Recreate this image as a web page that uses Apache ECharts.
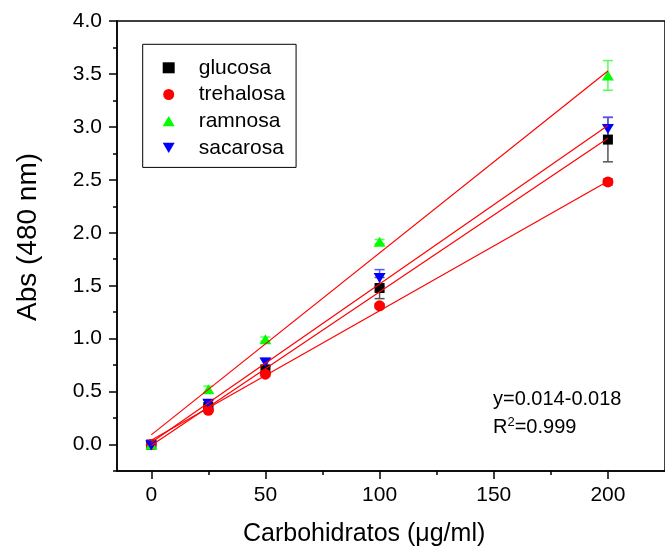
<!DOCTYPE html>
<html>
<head>
<meta charset="utf-8">
<script src="https://cdn.jsdelivr.net/npm/echarts@6/dist/echarts.min.js"></script>
<style>html,body{margin:0;padding:0;background:#fff}#c{width:665px;height:556px}</style>
</head>
<body>
<div id="c"></div>
<script>
const conc = [0, 25, 50, 100, 200];
const glucosa = [0.00, 0.355, 0.71, 1.478, 2.88];
const glucosaErr = [0.01, 0.02, 0.03, 0.10, 0.21];
const trehalosa = [0.00, 0.323, 0.664, 1.31, 2.48];
const trehalosaErr = [0.01, 0.02, 0.02, 0.02, 0.03];
const ramnosa = [0.00, 0.522, 0.995, 1.916, 3.486];
const ramnosaErr = [0.01, 0.03, 0.02, 0.02, 0.14];
const sacarosa = [-0.01, 0.386, 0.774, 1.572, 2.98];
const sacarosaErr = [0.02, 0.03, 0.04, 0.08, 0.11];
// fitted lines: [slope, intercept]
const fitGlucosa = [0.01451, -0.009];
const fitTrehalosa = [0.01223, 0.040];
const fitRamnosa = [0.01718, 0.091];
const fitSacarosa = [0.01497, 0.019];
const fitRange = [0, 200];
const xMajorTicks = [0, 50, 100, 150, 200];
const xMinorTicks = [25, 75, 125, 175];
const yMajorTicks = [0, 0.5, 1.0, 1.5, 2.0, 2.5, 3.0, 3.5, 4.0];
const yMinorTicks = [-0.25, 0.25, 0.75, 1.25, 1.75, 2.25, 2.75, 3.25, 3.75];
const names = ['glucosa', 'trehalosa', 'ramnosa', 'sacarosa'];

const FONT = 'Liberation Sans, Arial, sans-serif';
const colors = ['#000000', '#ff0000', '#00ff00', '#0000ff'];
const errColors = ['#555555', '#ff5555', '#55ff55', '#5555ff'];
const symbols = ['rect', 'circle', 'triangle', 'triangle'];
const sizes = [[10, 10], 11, [12, 10], [12, 10]];
const rot = [0, 0, 0, 180];
const vals = [glucosa, trehalosa, ramnosa, sacarosa];
const errs = [glucosaErr, trehalosaErr, ramnosaErr, sacarosaErr];
const fits = [fitGlucosa, fitTrehalosa, fitRamnosa, fitSacarosa];

const series = [];
names.forEach((n, i) => {
  series.push({
    type: 'custom', name: n + '_err', xAxisIndex: 0, yAxisIndex: 0, z: 2, silent: true,
    data: conc.map((x, k) => [x, vals[i][k] - errs[i][k], vals[i][k] + errs[i][k]]),
    renderItem: function (params, api) {
      const x = api.value(0);
      const lo = api.coord([x, api.value(1)]);
      const hi = api.coord([x, api.value(2)]);
      const st = { stroke: errColors[i], lineWidth: 1.5 };
      return { type: 'group', children: [
        { type: 'line', shape: { x1: lo[0], y1: lo[1], x2: hi[0], y2: hi[1] }, style: st },
        { type: 'line', shape: { x1: lo[0] - 5, y1: lo[1], x2: lo[0] + 5, y2: lo[1] }, style: st },
        { type: 'line', shape: { x1: hi[0] - 5, y1: hi[1], x2: hi[0] + 5, y2: hi[1] }, style: st }
      ]};
    }
  });
});
names.forEach((n, i) => {
  series.push({
    type: 'scatter', name: n, xAxisIndex: 0, yAxisIndex: 0, z: 3,
    symbol: symbols[i], symbolSize: sizes[i], symbolRotate: rot[i],
    itemStyle: { color: colors[i], opacity: 1 },
    data: conc.map((x, k) => [x, vals[i][k]])
  });
});
names.forEach((n, i) => {
  series.push({
    type: 'line', name: n + '_fit', xAxisIndex: 0, yAxisIndex: 0, z: 4, silent: true,
    showSymbol: false, symbol: 'none',
    lineStyle: { color: '#ff0000', width: 1.2 },
    data: fitRange.map(x => [x, fits[i][1] + fits[i][0] * x])
  });
});

const axisLineStyle = { color: '#000', width: 1.5 };
const option = {
  animation: false,
  grid: { left: 117, top: 21, right: -10, bottom: 85, show: true, borderColor: '#000', borderWidth: 1.5, backgroundColor: 'transparent' },
  xAxis: [
    { type: 'value', min: -15, max: 225, position: 'bottom',
      axisLine: { show: true, onZero: false, lineStyle: axisLineStyle },
      axisTick: { show: true, inside: false, length: 8, lineStyle: { color: '#000', width: 1.5 }, customValues: xMajorTicks },
      axisLabel: { show: true, customValues: xMajorTicks, margin: 14, fontSize: 21, color: '#000', fontFamily: FONT },
      splitLine: { show: false } },
    { type: 'value', min: -15, max: 225, position: 'bottom',
      axisLine: { show: false, onZero: false },
      axisTick: { show: true, inside: false, length: 4, lineStyle: { color: '#000', width: 1.5 }, customValues: xMinorTicks },
      axisLabel: { show: false },
      splitLine: { show: false } }
  ],
  yAxis: [
    { type: 'value', min: -0.25, max: 4.0, position: 'left',
      axisLine: { show: true, onZero: false, lineStyle: axisLineStyle },
      axisTick: { show: true, inside: false, length: 8, lineStyle: { color: '#000', width: 1.5 }, customValues: yMajorTicks },
      axisLabel: { show: true, customValues: yMajorTicks, margin: 15, fontSize: 21, color: '#000', fontFamily: FONT,
        formatter: v => v.toFixed(1) },
      splitLine: { show: false } },
    { type: 'value', min: -0.25, max: 4.0, position: 'left',
      axisLine: { show: false, onZero: false },
      axisTick: { show: true, inside: false, length: 4, lineStyle: { color: '#000', width: 1.5 }, customValues: yMinorTicks },
      axisLabel: { show: false },
      splitLine: { show: false } }
  ],
  legend: {
    orient: 'vertical', left: 142.7, top: 44.3,
    padding: [13, 11, 9, 20],
    itemGap: 5.7, itemWidth: 12, itemHeight: 11,
    borderColor: '#000', borderWidth: 1, borderRadius: 0,
    selectedMode: false,
    textStyle: { fontSize: 21, fontFamily: FONT, color: '#000',
      rich: { t: { fontSize: 21, fontFamily: FONT, color: '#000', padding: [0, 0, 0, 19] } } },
    formatter: n => '{t|' + n + '}',
    data: [
      { name: 'glucosa', icon: 'rect', itemStyle: { color: '#000' } },
      { name: 'trehalosa', icon: 'circle', itemStyle: { color: '#ff0000' } },
      { name: 'ramnosa', icon: 'path://M5,0L10,8.5L0,8.5Z', itemStyle: { color: '#00ff00' } },
      { name: 'sacarosa', icon: 'path://M0,0L10,0L5,8.5Z', itemStyle: { color: '#0000ff' } }
    ]
  },
  graphic: [
    { type: 'text', left: 243, top: 522, style: { text: 'Carbohidratos (\u03bcg/ml)', fontSize: 25, fontFamily: FONT, fill: '#000' } },
    { type: 'text', x: 28, y: 237, rotation: Math.PI / 2, style: { text: 'Abs (480 nm)', fontSize: 28, fontFamily: FONT, fill: '#000', align: 'center', verticalAlign: 'middle' } },
    { type: 'text', left: 493, top: 389, style: { text: 'y=0.014-0.018', fontSize: 20, fontFamily: FONT, fill: '#000' } },
    { type: 'text', left: 493, top: 416, style: { text: 'R{s|2}=0.999', fontSize: 20, fontFamily: FONT, fill: '#000',
      rich: { s: { fontSize: 13, fontFamily: FONT, fill: '#000', verticalAlign: 'top', padding: [0, 0, 10, 0] } } } }
  ],
  series: series
};
const chart = echarts.init(document.getElementById('c'), null, { renderer: 'canvas' });
chart.setOption(option);
</script>
</body>
</html>
